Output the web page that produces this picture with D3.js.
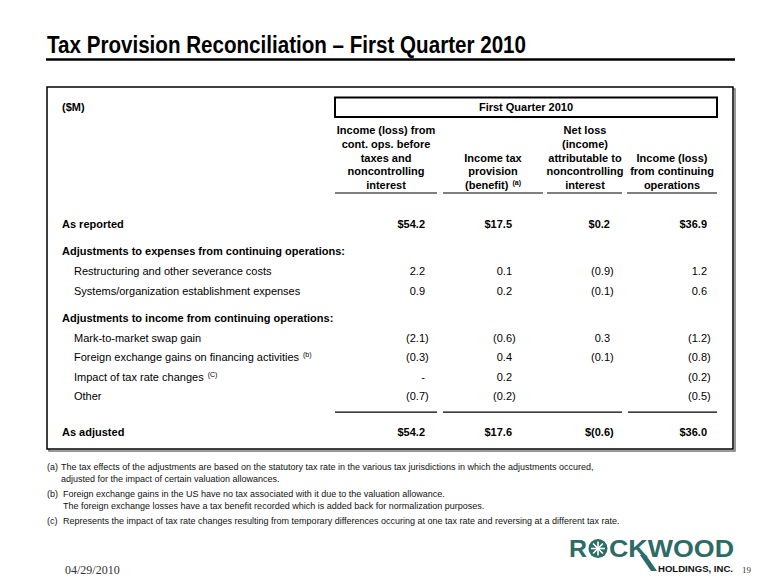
<!DOCTYPE html>
<html><head><meta charset="utf-8">
<script src="https://cdn.jsdelivr.net/npm/d3@7"></script>
<style>html,body{margin:0;padding:0;background:#fff}svg{display:block}</style>
</head><body>
<svg id="chart" width="780" height="585"></svg>
<script>
// ---------------- DATA ----------------
const titleText = "Tax Provision Reconciliation \u2013 First Quarter 2010";
const periodLabel = "First Quarter 2010";
const unitLabel = "($M)";
const columnKeys = ["pretax", "taxProvision", "nci", "income"];
const columnHeaders = [
  ["Income (loss) from", "cont. ops. before", "taxes and", "noncontrolling", "interest"],
  ["Income tax", "provision", "(benefit)"],
  ["Net loss", "(income)", "attributable to", "noncontrolling", "interest"],
  ["Income (loss)", "from continuing", "operations"]
];
const columnNotes = [null, "(a)", null, null];
const rowLabels = [
  "As reported",
  "Adjustments to expenses from continuing operations:",
  "Restructuring and other severance costs",
  "Systems/organization establishment expenses",
  "Adjustments to income from continuing operations:",
  "Mark-to-market swap gain",
  "Foreign exchange gains on financing activities",
  "Impact of tax rate changes",
  "Other",
  "As adjusted"
];
const rowKinds = ["total", "section", "item", "item", "section", "item", "item", "item", "item", "total"];
const rowNotes = [null, null, null, null, null, null, "(b)", "(C)", null, null];
const pretaxValues       = [54.2, null,  2.2,  0.9, null, -2.1, -0.3,  0,    -0.7, 54.2];
const taxProvisionValues = [17.5, null,  0.1,  0.2, null, -0.6,  0.4,  0.2,  -0.2, 17.6];
const nciValues          = [0.2,  null, -0.9, -0.1, null,  0.3, -0.1,  null, null, -0.6];
const incomeValues       = [36.9, null,  1.2,  0.6, null, -1.2, -0.8, -0.2,  -0.5, 36.0];
const footnoteMarks = ["(a)", "", "(b)", "", "(c)"];
const footnoteLines = [
  "The tax effects of the adjustments are based on the statutory tax rate in the various tax jurisdictions in which the adjustments occured,",
  "adjusted for the impact of certain valuation allowances.",
  "Foreign exchange gains in the US have no tax associated with it due to the valuation allowance.",
  "The foreign exchange losses have a tax benefit recorded which is added back for normalization purposes.",
  "Represents the impact of tax rate changes resulting from temporary differences occuring at one tax rate and reversing at a different tax rate."
];
const dateLabel = "04/29/2010";
const pageLabel = "19";
const logoWord = "ROCKWOOD";
const logoSub = "HOLDINGS, INC.";

// ---------------- LAYOUT / DRAW ----------------
const svg = d3.select("#chart");
const SANS = "'Liberation Sans', Arial, Helvetica, sans-serif";
const NARROW = "'Liberation Sans Narrow', 'Arial Narrow', 'Liberation Sans', Arial, sans-serif";
const SERIF = "'Liberation Serif', 'Times New Roman', serif";
const seriesValues = [pretaxValues, taxProvisionValues, nciValues, incomeValues];

// Title
svg.append("text").attr("x", 47).attr("y", 53)
  .attr("font-family", NARROW).attr("font-weight", "bold").attr("font-size", 23)
  .attr("textLength", 479).attr("lengthAdjust", "spacingAndGlyphs")
  .attr("fill", "#000").text(titleText);
svg.append("line").attr("x1", 46).attr("x2", 735).attr("y1", 59.5).attr("y2", 59.5)
  .attr("stroke", "#000").attr("stroke-width", 2.5);

// Outer box with shadow
const box = {x: 47, y: 87, w: 686, h: 362};
svg.append("rect").attr("x", box.x + 2).attr("y", box.y + 2).attr("width", box.w).attr("height", box.h)
  .attr("fill", "none").attr("stroke", "#777").attr("stroke-width", 1.5);
svg.append("rect").attr("x", box.x).attr("y", box.y).attr("width", box.w).attr("height", box.h)
  .attr("fill", "#fff").attr("stroke", "#000").attr("stroke-width", 1.5);

// Column scales
const colCenter = d3.scaleOrdinal().domain(columnKeys).range([386, 493, 585, 672]);
const colRight = d3.scaleOrdinal().domain(columnKeys).range([425, 512, 610, 707]);
const colLine = d3.scaleOrdinal().domain(columnKeys).range([[335, 437], [443, 543], [547, 622], [627, 717]]);

// Period box
svg.append("rect").attr("x", 335).attr("y", 97.5).attr("width", 382).attr("height", 19.5)
  .attr("fill", "#fff").attr("stroke", "#000").attr("stroke-width", 2);
svg.append("text").attr("x", 526).attr("y", 111)
  .attr("text-anchor", "middle").attr("font-family", SANS).attr("font-weight", "bold").attr("font-size", 11)
  .text(periodLabel);
svg.append("text").attr("x", 62).attr("y", 111)
  .attr("font-family", SANS).attr("font-weight", "bold").attr("font-size", 11)
  .text(unitLabel);

// Header lines (bottom aligned)
const headerLine = d3.scaleLinear().domain([0, 4]).range([134, 189]);
columnKeys.forEach((k, ci) => {
  const lines = columnHeaders[ci];
  const off = 5 - lines.length;
  lines.forEach((ln, li) => {
    const t = svg.append("text").attr("x", colCenter(k)).attr("y", headerLine(li + off))
      .attr("text-anchor", "middle").attr("font-family", SANS).attr("font-weight", "bold").attr("font-size", 11)
      .text(ln);
    if (li === lines.length - 1 && columnNotes[ci]) {
      t.append("tspan").attr("dx", 4).attr("dy", -4).attr("font-size", 7).text(columnNotes[ci]);
    }
  });
  const [a, b] = colLine(k);
  svg.append("line").attr("x1", a).attr("x2", b).attr("y1", 193).attr("y2", 193)
    .attr("stroke", "#000").attr("stroke-width", 1.2);
});

// Row positions: unit scale with extra gaps before sections / final total
const units = [];
rowKinds.forEach((kind, i) => {
  if (i === 0) { units.push(0); return; }
  let u = units[i - 1] + 1;
  if (kind === "section") u += 0.4;
  if (kind === "total") u += 0.8;
  units.push(u);
});
const yRow = d3.scaleLinear().domain([0, 1]).range([224, 243.6]);

rowLabels.forEach((lab, i) => {
  const kind = rowKinds[i];
  const t = svg.append("text").attr("x", kind === "item" ? 74 : 62).attr("y", yRow(units[i]) + 4)
    .attr("font-family", SANS).attr("font-size", 11)
    .attr("font-weight", kind === "item" ? "normal" : "bold").text(lab);
  if (rowNotes[i]) t.append("tspan").attr("dx", 4).attr("dy", -4).attr("font-size", 7).text(rowNotes[i]);
});

function fmt(v, total) {
  if (v === null || v === undefined) return "";
  if (v === 0) return "-";
  const s = Math.abs(v).toFixed(1);
  const body = v < 0 ? "(" + s + ")" : s;
  return (total ? "$" : "") + body;
}
columnKeys.forEach((k, ci) => {
  seriesValues[ci].forEach((v, i) => {
    if (v === null) return;
    const total = rowKinds[i] === "total";
    svg.append("text")
      .attr("x", colRight(k) + (v < 0 ? 3.7 : 0)).attr("y", yRow(units[i]) + 4)
      .attr("text-anchor", "end").attr("font-family", SANS).attr("font-size", 11)
      .attr("font-weight", total ? "bold" : "normal").text(fmt(v, total));
  });
});

// Rule before final total
const ruleY = (yRow(units[8]) + yRow(units[9])) / 2 - 2;
[[335, 437], [443, 622], [628, 717]].forEach(([a, b]) => {
  svg.append("line").attr("x1", a).attr("x2", b).attr("y1", ruleY).attr("y2", ruleY)
    .attr("stroke", "#000").attr("stroke-width", 1.2);
});

// Footnotes
const fnY = d3.scaleOrdinal().domain(d3.range(5)).range([467, 479, 494, 506, 521]);
const fnX = [61, 61, 63, 63, 63];
footnoteLines.forEach((ln, i) => {
  if (footnoteMarks[i]) {
    svg.append("text").attr("x", 47).attr("y", fnY(i) + 3)
      .attr("font-family", SANS).attr("font-size", 9).attr("fill", "#111").text(footnoteMarks[i]);
  }
  svg.append("text").attr("x", fnX[i]).attr("y", fnY(i) + 3)
    .attr("font-family", SANS).attr("font-size", 9).attr("fill", "#111").text(ln);
});

// Footer
svg.append("text").attr("x", 65).attr("y", 574).attr("font-family", SERIF).attr("font-size", 12)
  .attr("fill", "#333").text(dateLabel);
svg.append("text").attr("x", 742).attr("y", 573).attr("font-family", SERIF).attr("font-size", 9)
  .attr("fill", "#333").text(pageLabel);

// Logo
const teal = "#2d6b66";
const lg = svg.append("g");
lg.append("text").attr("x", 569).attr("y", 557).attr("font-family", SANS).attr("font-weight", "bold")
  .attr("font-size", 24).attr("fill", teal).attr("textLength", 18).attr("lengthAdjust", "spacingAndGlyphs")
  .text(logoWord[0]);
lg.append("circle").attr("cx", 598).attr("cy", 548.5).attr("r", 9.5).attr("fill", teal);
d3.range(8).forEach(j => {
  const a = j * Math.PI / 4;
  lg.append("line").attr("x1", 598).attr("y1", 548.5)
    .attr("x2", 598 + 7 * Math.cos(a)).attr("y2", 548.5 + 7 * Math.sin(a))
    .attr("stroke", "#fff").attr("stroke-width", 1.6);
});
lg.append("text").attr("x", 609).attr("y", 557).attr("font-family", SANS).attr("font-weight", "bold")
  .attr("font-size", 24).attr("fill", teal).attr("textLength", 125).attr("lengthAdjust", "spacingAndGlyphs")
  .text(logoWord.slice(2));
lg.append("polygon").attr("points", "640,555 646,555 657,571 651,571").attr("fill", teal);
lg.append("text").attr("x", 733).attr("y", 572).attr("text-anchor", "end").attr("font-family", SANS)
  .attr("font-weight", "bold").attr("font-size", 9).attr("fill", "#111")
  .attr("textLength", 75).attr("lengthAdjust", "spacingAndGlyphs").text(logoSub);
</script>
</body></html>
